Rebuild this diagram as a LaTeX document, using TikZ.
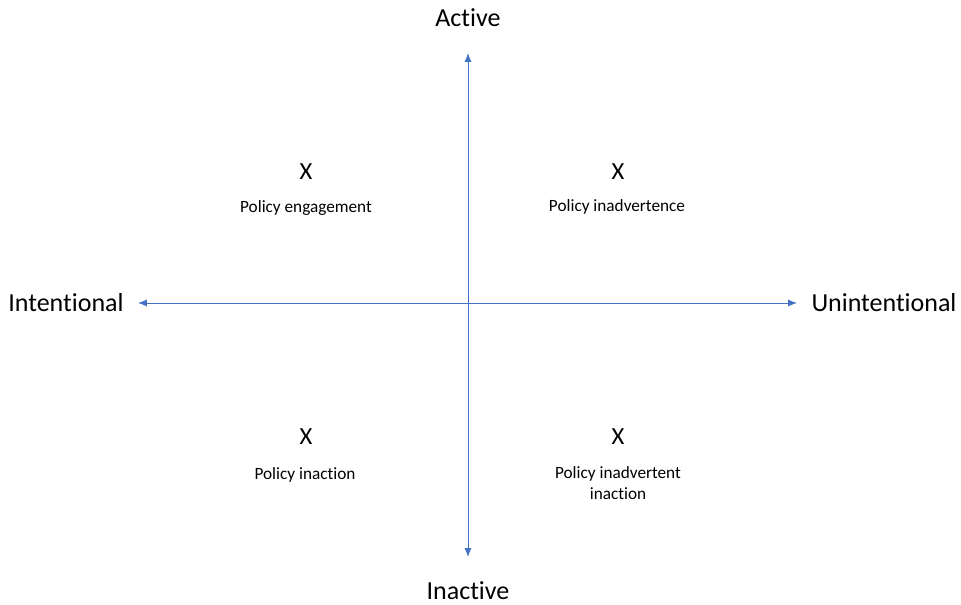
\documentclass[tikz,border=0pt]{standalone}
\usepackage{fontspec}
\setmainfont[Ligatures=NoCommon]{Carlito}
\usetikzlibrary{arrows.meta,positioning}
\definecolor{axisblue}{RGB}{68,114,196}

\begin{document}
\begin{tikzpicture}[
    x=0.02cm, y=-0.02cm,
    axis/.style={draw=axisblue,line width=0.55pt,{Latex[length=5pt,width=4pt]}-{Latex[length=5pt,width=4pt]}},
    pole/.style={draw=none,font=\fontsize{14.8}{18}\selectfont},
    cross/.style={draw=none,font=\fontsize{14}{16}\selectfont},
    quad/.style={draw=none,font=\fontsize{9.8}{12}\selectfont,align=center},
]

\useasboundingbox (0,0) rectangle (961,605);

% Axis ends
\coordinate (top) at (468,53);
\coordinate (bottom) at (468,557);
\coordinate (left) at (138,303);
\coordinate (right) at (797,303);

% Axes
\draw[axis] (top) -- (bottom);
\draw[axis] (left) -- (right);

% Pole labels
\node[pole] (active) at (468,18) {Active};
\node[pole] (inactive) at (468,591) {Inactive};
\node[pole] (intentional) at (66,303) {Intentional};
\node[pole] (unintentional) at (884,303) {Unintentional};

% Quadrants
\node[cross] (x1) at (306,172) {X};
\node[quad] (engage) at (306,208) {Policy engagement};

\node[cross] (x2) at (618,172) {X};
\node[quad] (inadv) at (617,207) {Policy inadvertence};

\node[cross] (x3) at (306,437) {X};
\node[quad] (inact) at (305,475) {Policy inaction};

\node[cross] (x4) at (618,437) {X};
\node[quad] (inadvinact) at (618,483) {Policy inadvertent\\inaction};

\end{tikzpicture}
\end{document}
